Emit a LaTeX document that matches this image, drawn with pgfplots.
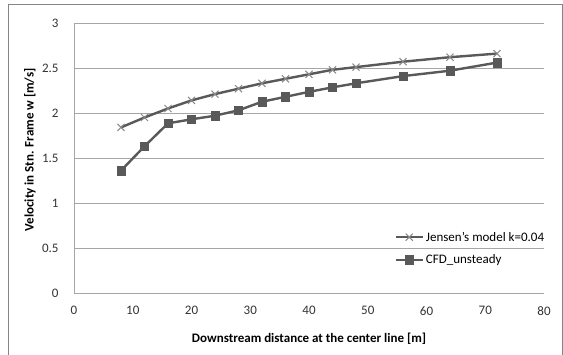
\documentclass[border=0pt]{standalone}
\usepackage{pgfplots}
\pgfplotsset{compat=1.18}
\usepackage{fontspec}
\setmainfont{Carlito}
\definecolor{linegray}{HTML}{595959}
\definecolor{crossgray}{HTML}{8A8A8A}
\definecolor{gridgray}{HTML}{A6A6A6}
\begin{document}
\begin{tikzpicture}[x=1pt,y=1pt]
\begin{axis}[
  at={(74pt,61pt)}, anchor=south west,
  scale only axis, width=470pt, height=270pt,
  xmin=0, xmax=80, ymin=0, ymax=3,
  xtick={0,10,...,80}, ytick={0,0.5,...,3},
  yticklabels={0,0.5,1,1.5,2,2.5,3},
  axis lines*=left,
  axis line style={draw=gridgray, line width=1pt},
  ymajorgrids, grid style={draw=gridgray, line width=1pt},
  major tick length=0pt,
  /pgf/number format/assume math mode=true,
  tick label style={font=\fontsize{13}{15}\selectfont, text=black!80},
  yticklabel style={xshift=-12pt},
  xticklabel style={yshift=-10pt},
  xlabel={\textbf{Downstream distance at the center line [m]}},
  ylabel={\textbf{Velocity in Stn. Frame w [m/s]}},
  label style={font=\fontsize{13}{15}\selectfont},
  xlabel style={at={(axis description cs:0.5,-0.168)}, anchor=center},
  ylabel style={at={(axis description cs:-0.094,0.53)}, anchor=center},
  legend style={at={(1.005,0.165)}, anchor=east, draw=none, fill=none,
    font=\fontsize{13}{15}\selectfont, row sep=8pt, inner sep=0pt,
    /tikz/every even column/.append style={column sep=0pt}},
  legend cell align=left,
  legend image code/.code={\draw[mark repeat=2,mark phase=2,#1] plot coordinates {(0pt,0pt) (13.5pt,0pt) (27pt,0pt)};},
]
\addplot[color=linegray, line width=2.4pt, mark=x, mark size=5pt,
  mark options={draw=crossgray, line width=1pt}]
coordinates {(8,1.84) (12,1.95) (16,2.05) (20,2.14) (24,2.21) (28,2.27) (32,2.33) (36,2.38) (40,2.43) (44,2.48) (48,2.51) (56,2.57) (64,2.62) (72,2.66)};
\addlegendentry{Jensen's model k=0.04}
\addplot[color=linegray, line width=2.4pt, mark=square*, mark size=4.2pt,
  mark options={fill=linegray, draw=linegray, line width=0.5pt}]
coordinates {(8,1.36) (12,1.63) (16,1.885) (20,1.93) (24,1.97) (28,2.03) (32,2.125) (36,2.18) (40,2.235) (44,2.285) (48,2.33) (56,2.41) (64,2.47) (72,2.56)};
\addlegendentry{CFD\_unsteady}
\end{axis}
\draw[gridgray!80!black, line width=1pt] (8pt,-5pt) -- (8pt,349pt) -- (562pt,349pt) -- (562pt,-5pt);
\pgfresetboundingbox
\path[use as bounding box] (0pt,0pt) rectangle (563pt,354pt);
\end{tikzpicture}
\end{document}
